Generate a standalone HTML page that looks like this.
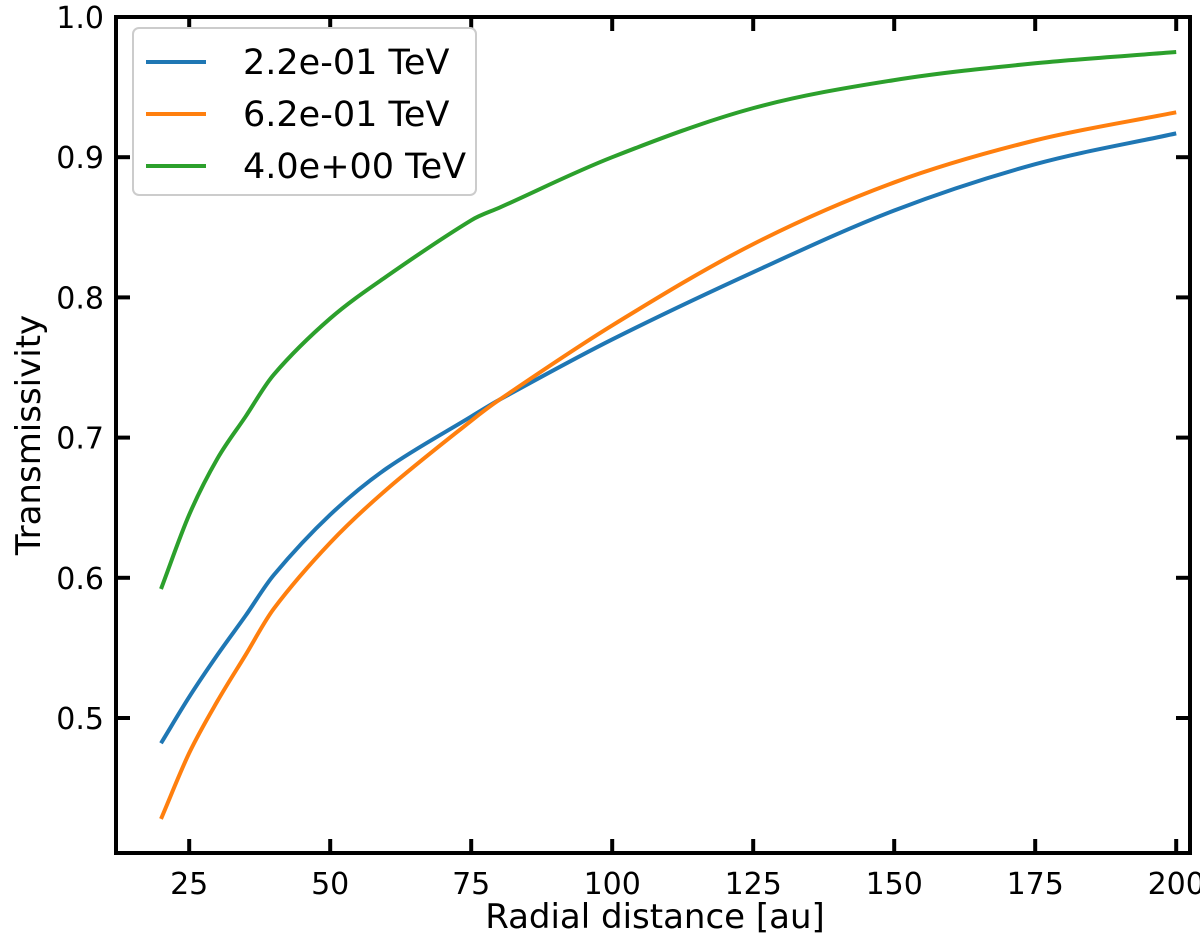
<!DOCTYPE html>
<html><head><meta charset="utf-8"><style>
body{margin:0;background:#fff;}
svg{display:block;font-family:"DejaVu Sans","Liberation Sans",sans-serif;}
</style></head><body>
<svg id="chart" width="1200" height="944"></svg>
<script>
const xs = [20,25,30,35,40,50,60,75,80,100,125,150,175,200];
const greenVals  = [0.592,0.645,0.685,0.715,0.745,0.785,0.815,0.855,0.864,0.900,0.935,0.955,0.967,0.975];
const blueVals   = [0.482,0.515,0.545,0.573,0.602,0.645,0.678,0.715,0.727,0.770,0.818,0.862,0.895,0.917];
const orangeVals = [0.428,0.475,0.512,0.545,0.578,0.625,0.663,0.712,0.727,0.780,0.838,0.882,0.912,0.932];
const xTicks = [25,50,75,100,125,150,175,200];
const yTicks = [0.5,0.6,0.7,0.8,0.9,1.0];
const yTickLabels = ["0.5","0.6","0.7","0.8","0.9","1.0"];
const seriesNames = ["2.2e-01 TeV","6.2e-01 TeV","4.0e+00 TeV"];

const L=116,R=1190,T=17,B=853;
const X=v=>161+(v-20)*(141/25);
const Y=v=>17+(1.0-v)*1402;
const NS="http://www.w3.org/2000/svg";
const svg=document.getElementById('chart');
function mk(tag,attrs,parent){const e=document.createElementNS(NS,tag);for(const k in attrs)e.setAttribute(k,attrs[k]);(parent||svg).appendChild(e);return e;}

function smoothPath(vals){
  const p=xs.map((x,i)=>[X(x),Y(vals[i])]);
  const n=p.length;
  const m=p.map((_,i)=>{
    const a=p[Math.max(i-1,0)], b=p[Math.min(i+1,n-1)];
    return (b[1]-a[1])/(b[0]-a[0]);
  });
  let d=`M${p[0][0]},${p[0][1]}`;
  for(let i=0;i<n-1;i++){
    const dx=p[i+1][0]-p[i][0];
    const c1=[p[i][0]+dx/3,p[i][1]+m[i]*dx/3];
    const c2=[p[i+1][0]-dx/3,p[i+1][1]-m[i+1]*dx/3];
    d+=` C${c1[0]},${c1[1]} ${c2[0]},${c2[1]} ${p[i+1][0]},${p[i+1][1]}`;
  }
  return d;
}
const series=[[blueVals,"#1f77b4"],[orangeVals,"#ff7f0e"],[greenVals,"#2ca02c"]];
const names=["series-blue-0.22tev","series-orange-0.62tev","series-green-4tev"];
series.forEach((s,i)=>{
  const el=mk('path',{d:smoothPath(s[0]),fill:'none',stroke:s[1],'stroke-width':4});
  
  
});

xTicks.forEach(v=>{
  const x=X(v);
  const t1=mk('line',{x1:x,x2:x,y1:B,y2:B-14,stroke:'#000','stroke-width':4});
  
  
  mk('line',{x1:x,x2:x,y1:T,y2:T+14,stroke:'#000','stroke-width':4});
  const t=mk('text',{x:x,y:B+41,'font-size':30,'text-anchor':'middle'});
  t.textContent=v;
  
  
});
yTicks.forEach((v,i)=>{
  const y=Y(v);
  const t1=mk('line',{x1:L,x2:L+14,y1:y,y2:y,stroke:'#000','stroke-width':4});
  
  
  mk('line',{x1:R,x2:R-14,y1:y,y2:y,stroke:'#000','stroke-width':4});
  const t=mk('text',{x:L-12,y:y+11,'font-size':30,'text-anchor':'end'});
  t.textContent=yTickLabels[i];
  
  
});
const frame=mk('rect',{x:L,y:T,width:R-L,height:B-T,fill:'none',stroke:'#000','stroke-width':4});



const xt=mk('text',{x:655,y:928,'font-size':34,'text-anchor':'middle'});
xt.textContent='Radial distance [au]';


const yt=mk('text',{x:0,y:0,'font-size':34,'text-anchor':'middle',transform:'translate(40,435) rotate(-90)'});
yt.textContent='Transmissivity';



const lg=mk('g',{});


mk('rect',{x:133,y:28,width:343,height:167,rx:6,fill:'#fff',stroke:'#ccc','stroke-width':2},lg);
const legCols=["#1f77b4","#ff7f0e","#2ca02c"];
seriesNames.forEach((n,i)=>{
  const y=62+i*52;
  mk('line',{x1:146,x2:206,y1:y,y2:y,stroke:legCols[i],'stroke-width':4},lg);
  const t=mk('text',{x:243,y:y+12,'font-size':35},lg);
  t.textContent=n;
  
  
});
</script>
</body></html>
